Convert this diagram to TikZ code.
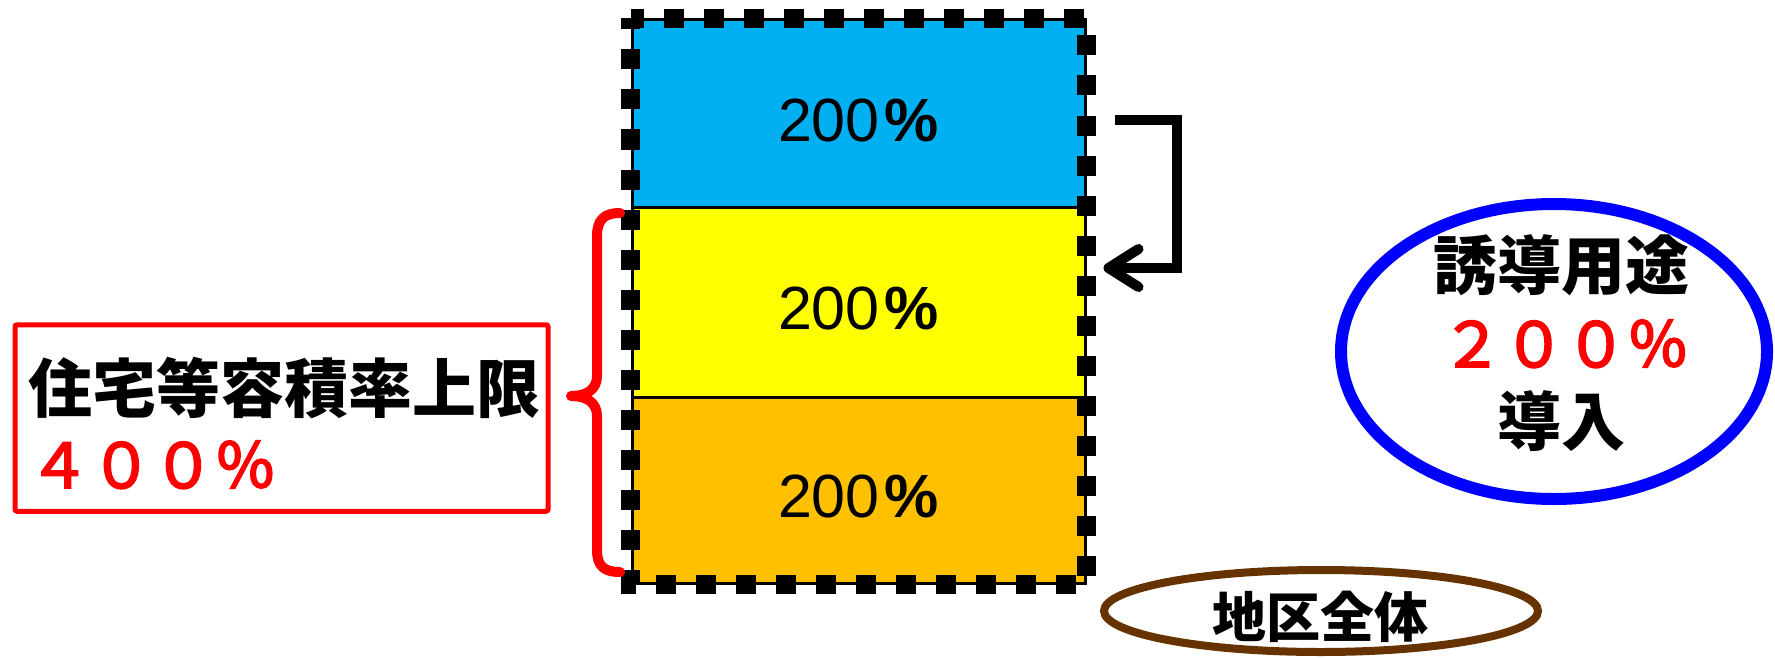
\documentclass[tikz,border=0pt]{standalone}
\usepackage{fontspec}
\setmainfont{Liberation Sans}
\newfontfamily\cjk{Noto Sans CJK JP}
\newfontfamily\cjkm[FakeBold=3]{Noto Sans CJK JP}
\usetikzlibrary{arrows.meta,shapes.geometric,calc}
\definecolor{cblue}{HTML}{00B0F0}
\definecolor{cyellow}{HTML}{FFFF00}
\definecolor{corange}{HTML}{FFC000}
\definecolor{cbrown}{HTML}{663300}
\begin{document}
\begin{tikzpicture}[x=0.5pt,y=-0.5pt,
  layer/.style={draw=black,line width=1.5pt,minimum width=226.5pt,inner sep=0pt,
    font=\fontsize{30.5}{36}\selectfont,text height=27.5pt,text depth=0pt},
  frame/.style={draw=black,line width=9.5pt,dash pattern=on 10pt off 10pt,dash phase=3.5pt},
  turn/.style={draw=black,line width=5pt,-{Straight Barb[length=15pt,width=19pt,round]}},
  bigcjk/.style={font=\cjk\bfseries\fontsize{32}{38}\selectfont,inner sep=0pt},
  redcjk/.style={font=\cjkm\fontsize{31}{38}\selectfont,text=red,inner sep=0pt},
  bracestyle/.style={draw=red,line width=5pt,line cap=round,line join=round}
]
\useasboundingbox (0,0) rectangle (1775,658);
% layers
\node[layer,fill=cblue,minimum height=93.5pt] (blue) at (858.5,113.5) {200\kern2.5pt{\bfseries\%}};
\node[layer,fill=cyellow,minimum height=95pt] (yellow) at (858.5,302) {200\kern2.5pt{\bfseries\%}};
\node[layer,fill=corange,minimum height=93pt] (orange) at (858.5,490) {200\kern2.5pt{\bfseries\%}};
\draw[frame] (blue.north west) -- (blue.north east) -- (orange.south east) -- (orange.south west) -- cycle;
% arrow
\coordinate (a0) at (1115,120);
\draw[turn] (a0) -| ($(yellow.east)+(90,-34)$) -- ($(yellow.east)+(17,-34)$);
% brace
\draw[bracestyle] (620,213) .. controls (604,213) and (597,220) .. (597,236) -- (597,376)
  .. controls (597,390) and (586,396) .. (571,396)
  .. controls (586,396) and (597,402) .. (597,416) -- (597,550)
  .. controls (597,566) and (604,572) .. (620,572);
% left box
\node[draw=red,line width=2.5pt,rounded corners=1pt,minimum width=266.5pt,minimum height=93.25pt,inner sep=0pt] (limit) at (281.5,418) {};
\node[bigcjk,anchor=base west] (limtitle) at (28,412) {住宅等容積率上限};
\node[redcjk,anchor=base west] (limval) at (28,488) {４００％};
% induce ellipse
\node[ellipse,draw=blue,line width=6pt,minimum width=213pt,minimum height=147.5pt,inner sep=0pt] (induce) at (1554,351.5) {};
\node[bigcjk,anchor=base] (ind1) at (1561,289) {誘導用途};
\node[redcjk,anchor=base] (ind2) at (1565,367) {２００％};
\node[bigcjk,anchor=base] (ind3) at (1561,445) {導入};
% zone ellipse
\node[ellipse,draw=cbrown,line width=4pt,minimum width=217pt,minimum height=41pt,inner sep=0pt] (zone) at (1321,611) {};
\node[font=\cjk\bfseries\fontsize{27}{32}\selectfont,inner sep=0pt,anchor=base] (zonetxt) at (1320,637) {地区全体};
\end{tikzpicture}
\end{document}
